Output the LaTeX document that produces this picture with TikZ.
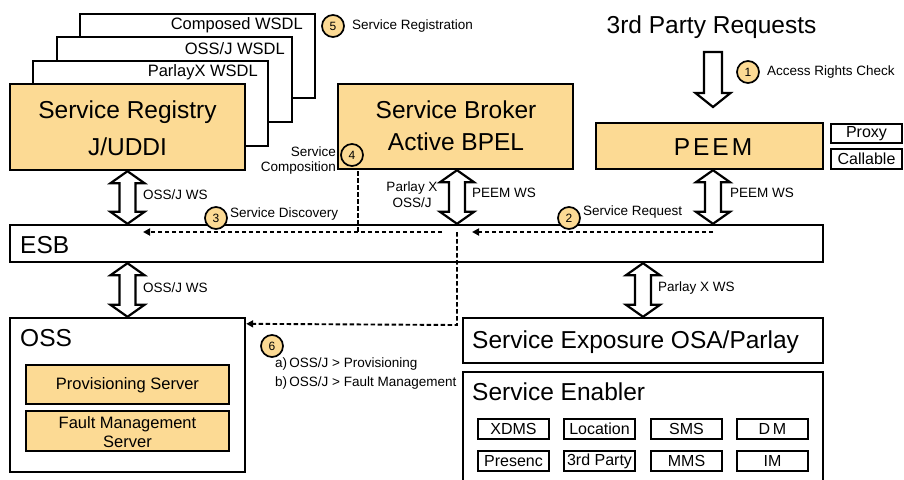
\documentclass[tikz,border=0pt]{standalone}
\usepackage{fontspec}
\setmainfont{Liberation Sans}
\usetikzlibrary{arrows.meta,calc}
\definecolor{boxorange}{RGB}{252,218,148}

\tikzset{
  box/.style={draw, line width=2.4pt, fill=white, inner sep=0pt, anchor=center},
  hlbox/.style={box, fill=boxorange},
  tagbox/.style={draw, line width=1.8pt, fill=white, minimum width=71pt, minimum height=20pt,
    inner sep=0pt, font=\fontsize{16}{18}\selectfont},
  num/.style={circle, draw, line width=1.7pt, fill=boxorange, minimum size=22pt, inner sep=0pt,
    font=\fontsize{12}{14}\selectfont},
  note/.style={font=\fontsize{13.5}{15}\selectfont, inner sep=0pt},
  big/.style={font=\fontsize{24.5}{29}\selectfont, inner sep=0pt},
  mid/.style={font=\fontsize{16.5}{19}\selectfont, inner sep=0pt},
  flow/.style={dash pattern=on 4.5pt off 2.5pt, line width=1.9pt, -{Triangle[length=7pt,width=7pt]}},
  blockarr/.style={draw, fill=white, line width=2.2pt, line join=miter},
}

% hollow two-headed vertical arrow between an upper and a lower point
\newcommand\vbiarrow[2]{%
  \path[blockarr] let \p1=#1, \p2=#2 in
    (\x1,\y1) -- (\x1+17pt,\y1-12pt) -- (\x1+8pt,\y1-12pt) -- (\x1+8pt,\y2+12pt)
    -- (\x1+17pt,\y2+12pt) -- (\x1,\y2) -- (\x1-17pt,\y2+12pt) -- (\x1-8pt,\y2+12pt)
    -- (\x1-8pt,\y1-12pt) -- (\x1-17pt,\y1-12pt) -- cycle;}
% hollow single-headed downward arrow
\newcommand\vdownarrow[2]{%
  \path[blockarr] let \p1=#1, \p2=#2 in
    (\x1-9pt,\y1) -- (\x1+9pt,\y1) -- (\x1+9pt,\y2+14pt) -- (\x1+17.5pt,\y2+14pt)
    -- (\x1,\y2) -- (\x1-17.5pt,\y2+14pt) -- (\x1-9pt,\y2+14pt) -- cycle;}

\begin{document}
\begin{tikzpicture}[x=1pt,y=-1pt]
\useasboundingbox (0,0) rectangle (904,479);

% ---------- WSDL stack and registry ----------
\node[box, minimum width=235pt, minimum height=84pt] (wsdlc) at (197.5,56) {};
\node[mid, anchor=east] (wsdlct) at (303,25) {Composed WSDL};
\node[box, minimum width=235pt, minimum height=85pt] (wsdlo) at (174.5,79.5) {};
\node[mid, anchor=east] (wsdlot) at (285,49) {OSS/J WSDL};
\node[box, minimum width=235pt, minimum height=85pt] (wsdlp) at (150.5,103.5) {};
\node[mid, anchor=east] (wsdlpt) at (258,72) {ParlayX WSDL};
\node[hlbox, minimum width=235pt, minimum height=86pt] (reg) at (127.5,127) {};
\node[inner sep=0pt, align=center, font=\fontsize{24.5}{37}\selectfont] (regt) at (127.5,128.5)
  {Service Registry\\J/UDDI};

\node[num] (n5) at (333,26) {5};
\node[note, anchor=west] (n5t) at (352,26) {Service Registration};

% ---------- broker ----------
\node[hlbox, minimum width=235pt, minimum height=85pt] (broker) at (455.5,126.5) {};
\node[inner sep=0pt, align=center, font=\fontsize{24.5}{32}\selectfont] (brokert) at (456,126)
  {Service Broker\\Active BPEL};
\node[num] (n4) at (352,155) {4};
\node[note, anchor=east, align=right, font=\fontsize{13.5}{15}\selectfont] (n4t) at (336,160.5)
  {Service\\Composition};

% ---------- PEEM ----------
\node[big] (third) at (711.5,27) {3rd Party Requests};
\coordinate (rqtop) at (713,52);
\coordinate (rqtip) at (713,107);
\vdownarrow{(rqtop)}{(rqtip)}
\node[num] (n1) at (748,72) {1};
\node[note, anchor=west] (n1t) at (767,72) {Access Rights Check};

\node[hlbox, minimum width=227pt, minimum height=46pt] (peem) at (709.5,146) {};
\node[big] (peemt) at (713,147) {P\kern3pt E\kern3pt E\kern3pt M};
\node[tagbox, minimum height=19pt] (proxy) at (866.5,133.5) {Proxy};
\node[tagbox] (callable) at (866.5,159) {Callable};

% ---------- ESB ----------
\node[box, minimum width=813pt, minimum height=37pt] (esb) at (416.5,243.5) {};
\node[big, anchor=west] (esbt) at (20,245) {ESB};

% ---------- OSS ----------
\node[box, minimum width=235pt, minimum height=154pt] (oss) at (127.5,395) {};
\node[big, anchor=west] (osst) at (20,338) {OSS};
\node[hlbox, minimum width=203pt, minimum height=39pt] (prov) at (127.5,384.5) {};
\node[mid] (provt) at (127.5,385) {Provisioning Server};
\node[hlbox, minimum width=203pt, minimum height=40pt] (fault) at (127.5,431) {};
\node[inner sep=0pt, align=center, font=\fontsize{16.5}{19}\selectfont] (faultt) at (127.5,432.5)
  {Fault Management\\Server};

% ---------- exposure and enablers ----------
\node[box, minimum width=360pt, minimum height=45pt] (expo) at (643,340.5) {};
\node[big, anchor=west] (expot) at (472,342) {Service Exposure OSA/Parlay};
\node[box, minimum width=360pt, minimum height=123pt] (enab) at (643,433.5) {};
\node[big, anchor=west] (enabt) at (472,392) {Service Enabler};
\node[tagbox] (xdms) at (513.5,429) {XDMS};
\node[tagbox] (loc)  at (599.5,429) {Location};
\node[tagbox] (sms)  at (686.5,429) {SMS};
\node[tagbox] (dm)   at (772.5,429) {D\,M};
\node[tagbox] (pres) at (513.5,461) {Presenc};
\node[tagbox] (tp)   at (599.5,461) {3rd Party};
\node[tagbox] (mms)  at (686.5,461) {MMS};
\node[tagbox] (im)   at (772.5,461) {IM};

% ---------- interface arrows ----------
\vbiarrow{(reg.south)}{(reg.south |- esb.north)}
\node[note, anchor=west] (l1) at (143,195) {OSS/J WS};
\vbiarrow{(reg.south |- esb.south)}{(reg.south |- oss.north)}
\node[note, anchor=west] (l2) at (143,288) {OSS/J WS};

\coordinate (bt) at ($(broker.south)+(1.5,0)$);
\vbiarrow{(bt)}{(bt |- esb.north)}
\node[note, align=center, font=\fontsize{13.5}{16}\selectfont] (l3) at (412,195) {Parlay X\\OSS/J};
\node[note, anchor=west] (l4) at (472,193) {PEEM WS};

\coordinate (pt) at ($(peem.south)+(3.5,0)$);
\vbiarrow{(pt)}{(pt |- esb.north)}
\node[note, anchor=west] (l5) at (730,193) {PEEM WS};

\vbiarrow{(expo.north |- esb.south)}{(expo.north)}
\node[note, anchor=west] (l6) at (658,288) {Parlay X WS};

% ---------- message flows ----------
\coordinate (srS) at (713,232);
\coordinate (srE) at (472,232);
\draw[flow] (srS) -- (srE);
\coordinate (sdS) at (442,232);
\coordinate (sdE) at (143,232);
\draw[flow] (sdS) -- (sdE);
\coordinate (cpS) at (358,171);
\coordinate (cpE) at (358,232);
\draw[flow, -] (cpS) -- (cpE);
\coordinate (opS) at (457,232);
\coordinate (opC) at (457,325);
\coordinate (opE) at ($(oss.north east)+(0,7)$);
\draw[flow] (opS) -- (opC) -- (opE);

\node[num] (n3) at (216,218) {3};
\node[note, anchor=west] (n3t) at (230,214) {Service Discovery};
\node[num] (n2) at (569,218) {2};
\node[note, anchor=west] (n2t) at (583,212) {Service Request};

\node[num] (n6) at (272,346) {6};
\node[note, anchor=west] (n6a) at (275,364) {a)\,OSS/J > Provisioning};
\node[note, anchor=west] (n6b) at (275,383) {b)\,OSS/J > Fault Management};
\end{tikzpicture}
\end{document}
